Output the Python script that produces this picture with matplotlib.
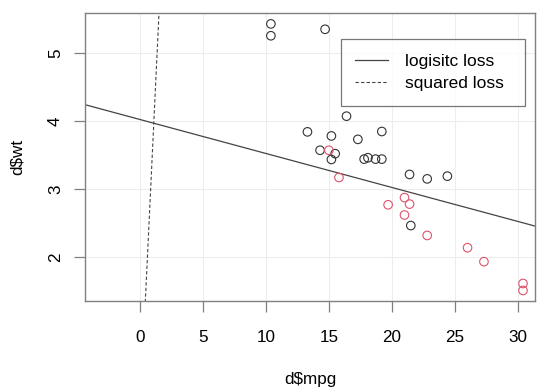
""" mtcars: weight vs mpg with two fitted decision lines """

import matplotlib
matplotlib.use('Agg')
from matplotlib import pyplot as plt
import numpy as np

# points (mpg, wt), split by transmission
mpg_auto = [21.4, 18.7, 18.1, 14.3, 24.4, 22.8, 19.2, 17.8, 16.4, 17.3, 15.2,
            10.4, 10.4, 14.7, 21.5, 15.5, 15.2, 13.3, 19.2]
wt_auto = [3.215, 3.440, 3.460, 3.570, 3.190, 3.150, 3.440, 3.440, 4.070,
           3.730, 3.780, 5.250, 5.424, 5.345, 2.465, 3.520, 3.435, 3.840, 3.845]
mpg_manual = [21.0, 21.0, 22.8, 30.4, 27.3, 26.0, 30.4, 15.8, 19.7, 15.0, 21.4]
wt_manual = [2.620, 2.875, 2.320, 1.615, 1.935, 2.140, 1.513, 3.170, 2.770,
             3.570, 2.780]

# lines as wt = intercept + slope * mpg
logistic_line = (4.022, -0.0499)
squared_line = (-0.364, 3.90)
legend_labels = ['logisitc loss', 'squared loss']

xticks = [0, 5, 10, 15, 20, 25, 30]
yticks = [2, 3, 4, 5]

plt.rcParams['font.family'] = ['Liberation Sans', 'DejaVu Sans']
plt.rcParams['font.size'] = 12.3

fig = plt.figure(figsize=(5.4, 3.9), dpi=100)
ax = fig.add_axes([0.158, 0.228, 0.832, 0.738])

xlim = (-4.32, 31.32)
ylim = (1.357, 5.580)
ax.set_xlim(*xlim)
ax.set_ylim(*ylim)

# grid
for x in xticks:
    ax.axvline(x, color='#ededed', lw=0.8, zorder=0)
for y in yticks:
    ax.axhline(y, color='#ededed', lw=0.8, zorder=0)

ax.scatter(mpg_auto, wt_auto, s=38, facecolors='none', edgecolors='#333333',
           linewidths=0.8, zorder=3)
ax.scatter(mpg_manual, wt_manual, s=38, facecolors='none',
           edgecolors='#DF536B', linewidths=0.8, zorder=3)

xs = np.array(xlim)
l1, = ax.plot(xs, logistic_line[0] + logistic_line[1] * xs, color='#444444',
              lw=0.9, label=legend_labels[0])
l2, = ax.plot(xs, squared_line[0] + squared_line[1] * xs, color='#444444',
              lw=0.8, ls=(0, (3, 2)), label=legend_labels[1])

ax.set_xticks(xticks)
ax.set_yticks(yticks)
ax.tick_params(length=8, width=0.9, color='#808080', labelsize=12.3)
ax.tick_params(axis='x', pad=13)
ax.tick_params(axis='y', pad=8)
for lab in ax.get_yticklabels():
    lab.set_rotation(90)
    lab.set_va('center')
for sp in ax.spines.values():
    sp.set_color('#808080')
    sp.set_linewidth(1.0)

ax.set_xlabel('d$mpg', labelpad=19)
ax.set_ylabel('d$wt', labelpad=17)

leg = ax.legend(loc='upper left', bbox_to_anchor=(0.568, 0.710, 0.410, 0.2),
                mode='expand', borderaxespad=0, frameon=True, fancybox=False,
                handlelength=1.9, handletextpad=0.95, borderpad=0.85,
                labelspacing=0.38, fontsize=12.5)
leg.get_frame().set_edgecolor('#555555')
leg.get_frame().set_linewidth(0.9)

fig.savefig('out.png', dpi=100)
